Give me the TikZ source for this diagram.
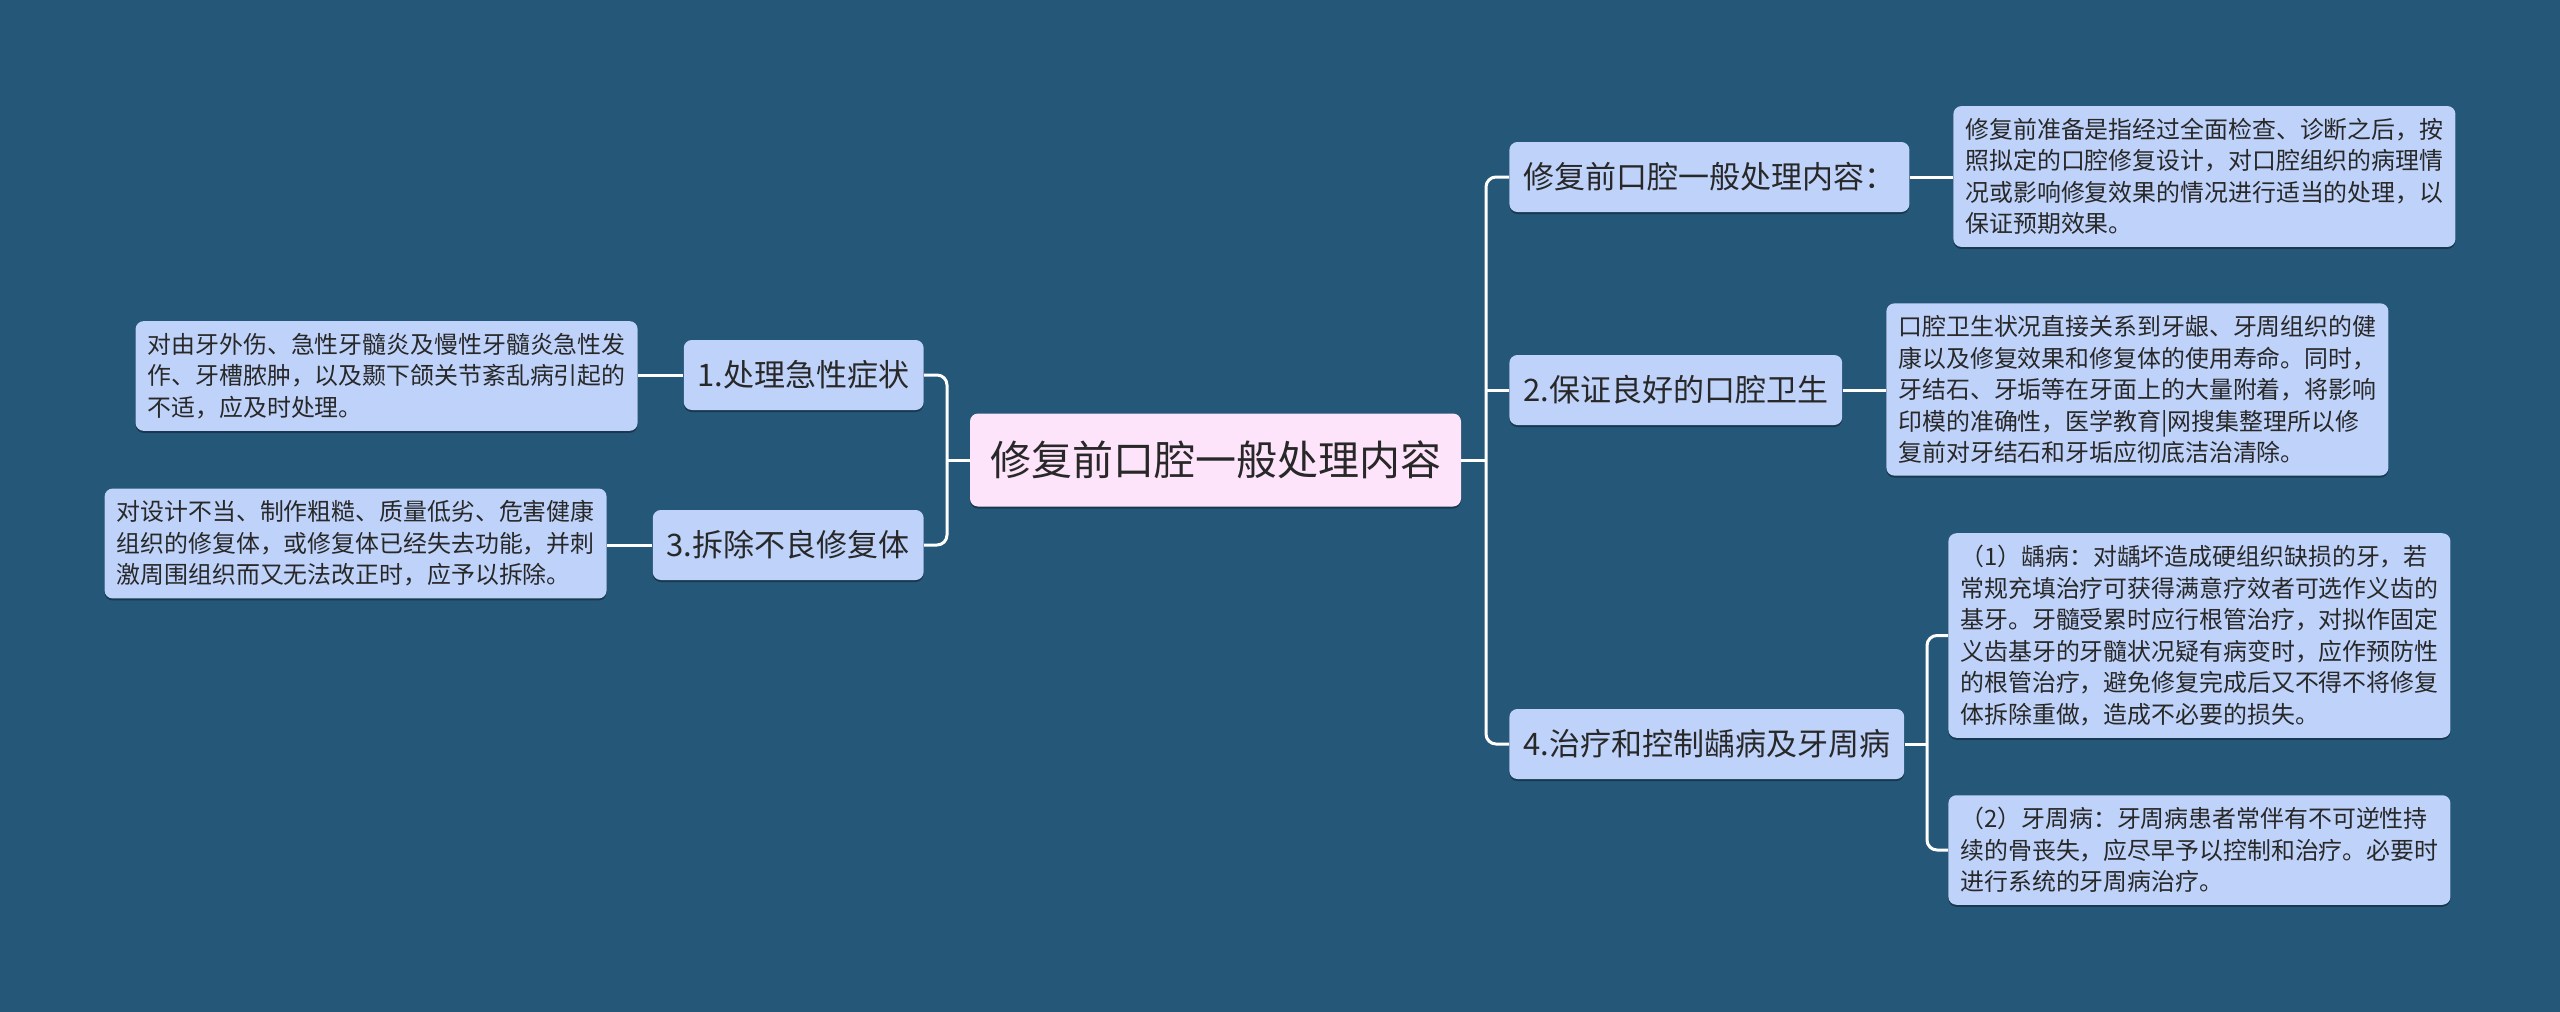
\documentclass[tikz,border=0pt]{standalone}
\usepackage{fontspec}
\setmainfont{Noto Sans CJK SC}
\usetikzlibrary{shadows}
\definecolor{bg}{RGB}{36,87,120}
\definecolor{nodefill}{RGB}{191,210,250}
\definecolor{rootfill}{RGB}{253,228,250}
\definecolor{txt}{RGB}{40,40,40}
\begin{document}
\begin{tikzpicture}[x=0.5pt,y=-0.5pt,
  box/.style={fill=nodefill, rounded corners=4pt, text=txt, inner sep=0pt,
    drop shadow={shadow xshift=0pt, shadow yshift=-1pt, opacity=0.35, fill=black}},
  leaf/.style={box, font=\fontsize{11.95}{15.75}\selectfont, align=left, inner xsep=6pt, inner ysep=6pt},
  branch/.style={box, font=\fontsize{15.5}{18}\selectfont, inner xsep=7pt, minimum height=35pt},
  root/.style={box, fill=rootfill, font=\fontsize{20.5}{24}\selectfont, minimum width=245.5pt, minimum height=46.5pt},
  conn/.style={draw=white, line width=1.5pt, rounded corners=5pt}]
\fill[bg] (0,0) rectangle (2560,1012);
\useasboundingbox (0,0) rectangle (2560,1012);

\node[root] (root) at (1215.5,460) {修复前口腔一般处理内容};

\node[branch, anchor=east] (b1) at (924,375) {1.处理急性症状};
\node[branch, anchor=east] (b3) at (924,545) {3.拆除不良修复体};

\node[leaf, anchor=east] (l1) at (638,376) {对由牙外伤、急性牙髓炎及慢性牙髓炎急性发\\作、牙槽脓肿，以及颞下颌关节紊乱病引起的\\不适，应及时处理。};
\node[leaf, anchor=east] (l3) at (607,543.5) {对设计不当、制作粗糙、质量低劣、危害健康\\组织的修复体，或修复体已经失去功能，并刺\\激周围组织而又无法改正时，应予以拆除。};

\node[branch, anchor=west] (r1) at (1509,177) {修复前口腔一般处理内容：};
\node[branch, anchor=west] (r2) at (1509,390) {2.保证良好的口腔卫生};
\node[branch, anchor=west] (r4) at (1509,744) {4.治疗和控制龋病及牙周病};

\node[leaf, anchor=west] (lr1) at (1953,176.5) {修复前准备是指经过全面检查、诊断之后，按\\照拟定的口腔修复设计，对口腔组织的病理情\\况或影响修复效果的情况进行适当的处理，以\\保证预期效果。};
\node[leaf, anchor=west] (lr2) at (1886,389.5) {口腔卫生状况直接关系到牙龈、牙周组织的健\\康以及修复效果和修复体的使用寿命。同时，\\牙结石、牙垢等在牙面上的大量附着，将影响\\印模的准确性，医学教育|网搜集整理所以修\\复前对牙结石和牙垢应彻底洁治清除。};
\node[leaf, anchor=west] (lr4a) at (1948,635.5) {（1）龋病：对龋坏造成硬组织缺损的牙，若\\常规充填治疗可获得满意疗效者可选作义齿的\\基牙。牙髓受累时应行根管治疗，对拟作固定\\义齿基牙的牙髓状况疑有病变时，应作预防性\\的根管治疗，避免修复完成后又不得不将修复\\体拆除重做，造成不必要的损失。};
\node[leaf, anchor=west] (lr4b) at (1948,850) {（2）牙周病：牙周病患者常伴有不可逆性持\\续的骨丧失，应尽早予以控制和治疗。必要时\\进行系统的牙周病治疗。};

\coordinate (tl) at (947,460);
\coordinate (tr) at (1486,460);
\coordinate (t4) at (1927,744);

\draw[conn] (root.west) -- (tl);
\draw[conn] (b1.east) -- (b1.east -| tl) -- (b3.east -| tl) -- (b3.east);
\draw[conn] (b1.west) -- (l1.east |- b1.west);
\draw[conn] (b3.west) -- (l3.east |- b3.west);

\draw[conn] (root.east) -- (tr);
\draw[conn] (r1.west) -- (r1.west -| tr) -- (r4.west -| tr) -- (r4.west);
\draw[conn] (r2.west -| tr) -- (r2.west);
\draw[conn] (r1.east) -- (lr1.west |- r1.east);
\draw[conn] (r2.east) -- (lr2.west |- r2.east);
\draw[conn] (r4.east) -- (t4);
\draw[conn] (lr4a.west) -- (lr4a.west -| t4) -- (lr4b.west -| t4) -- (lr4b.west);
\end{tikzpicture}
\end{document}
